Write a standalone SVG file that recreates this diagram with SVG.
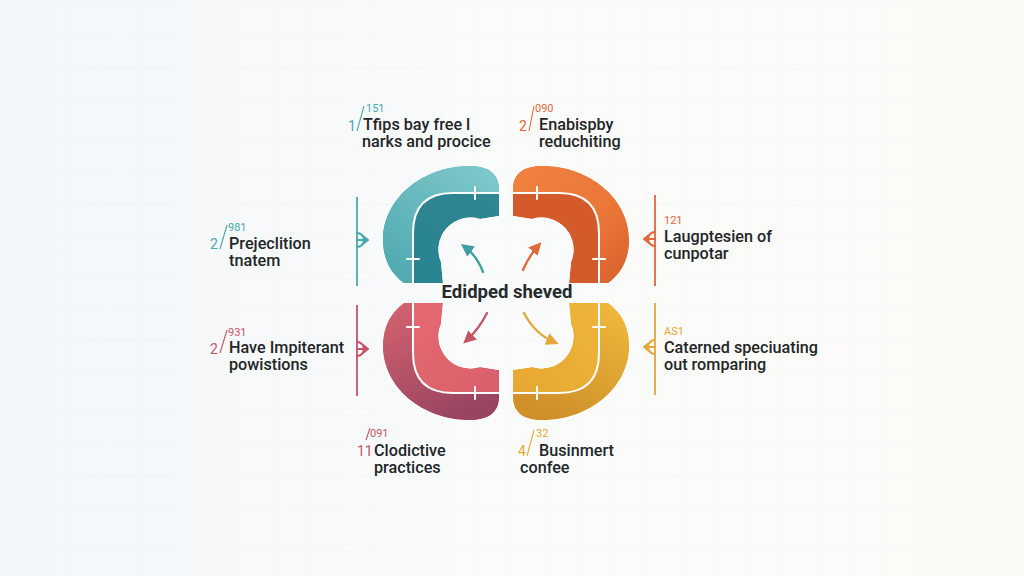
<svg xmlns="http://www.w3.org/2000/svg" xmlns:xlink="http://www.w3.org/1999/xlink" width="1024" height="576" viewBox="0 0 1024 576">
<style>
.lbl{font-family:Roboto,"Liberation Sans",sans-serif;font-size:16.2px;font-weight:500;fill:#232628}
.num{font-family:Roboto,"Liberation Sans",sans-serif;font-size:11px;font-weight:400}
.idx{font-family:Roboto,"Liberation Sans",sans-serif;font-size:14px;font-weight:400}
.ctr{font-family:Roboto,"Liberation Sans",sans-serif;font-size:18.5px;font-weight:700;fill:#262a2c}
.wl{fill:none;stroke:#ffffff;stroke-width:2;stroke-linecap:round;stroke-linejoin:round}
.conn{fill:none;stroke-width:2.3;stroke-linecap:round}
.side{fill:none;stroke-width:1.8}
.glyph{fill:none;stroke-width:2;stroke-linecap:round;stroke-linejoin:round}
.sl{stroke-width:1.1}
</style>
<defs>
<linearGradient id="bg" x1="0" y1="0" x2="1" y2="0">
<stop offset="0" stop-color="#F3F7F9"/>
<stop offset="0.5" stop-color="#FAFBFB"/>
<stop offset="1" stop-color="#FCFAF6"/>
</linearGradient>
<pattern id="grid" width="34" height="34" patternUnits="userSpaceOnUse">
<path d="M34 0 L0 0 L0 34" fill="none" stroke="#EEF2F3" stroke-width="1"/>
</pattern>
<path id="qs" d="M404,283 C390,273 383,258 383,240 C383,199 422,166 470,166 C486,166 499,172 499,189 L499,216 L480,219 A32,32 0 0 0 441,262 L443,283 Z"/>
<clipPath id="qclip"><use xlink:href="#qs"/></clipPath>
<path id="band" d="M300,100 L499,100 L499,193 L453,193 Q413,193 413,233 L413,290 L300,290 Z"/>
<path id="wline" d="M413,283 L413,233 Q413,193 453,193 L499,193 M475,187 L475,199 M407,259 L419,259"/>
<linearGradient id="gTealO" gradientUnits="userSpaceOnUse" x1="490" y1="168" x2="392" y2="280"><stop offset="0" stop-color="#7FC9CB"/><stop offset="1" stop-color="#4FA9B0"/></linearGradient>
<linearGradient id="gTealI" gradientUnits="userSpaceOnUse" x1="499" y1="200" x2="420" y2="283"><stop offset="0" stop-color="#2F8793"/><stop offset="1" stop-color="#2A8390"/></linearGradient>
<linearGradient id="gOrO" gradientUnits="userSpaceOnUse" x1="490" y1="168" x2="392" y2="280"><stop offset="0" stop-color="#F0813F"/><stop offset="0.6" stop-color="#EA7638"/><stop offset="1" stop-color="#D8632E"/></linearGradient>
<linearGradient id="gOrI" gradientUnits="userSpaceOnUse" x1="499" y1="200" x2="420" y2="283"><stop offset="0" stop-color="#D4592A"/><stop offset="1" stop-color="#D35B2B"/></linearGradient>
<linearGradient id="gPkO" gradientUnits="userSpaceOnUse" x1="405" y1="283" x2="455" y2="168"><stop offset="0" stop-color="#D2626F"/><stop offset="1" stop-color="#994460"/></linearGradient>
<linearGradient id="gPkI" gradientUnits="userSpaceOnUse" x1="499" y1="200" x2="420" y2="283"><stop offset="0" stop-color="#D9606B"/><stop offset="1" stop-color="#E4696F"/></linearGradient>
<linearGradient id="gYeO" gradientUnits="userSpaceOnUse" x1="405" y1="283" x2="455" y2="168"><stop offset="0" stop-color="#EFB83B"/><stop offset="1" stop-color="#CF902A"/></linearGradient>
<linearGradient id="gYeI" gradientUnits="userSpaceOnUse" x1="499" y1="200" x2="420" y2="283"><stop offset="0" stop-color="#E6A833"/><stop offset="1" stop-color="#EEB438"/></linearGradient>
<marker id="mTeal" viewBox="0 0 10 10" refX="6" refY="5" markerWidth="5.5" markerHeight="5.5" orient="auto"><path d="M0,0 L10,5 L0,10 Z" fill="#3E9EA6"/></marker>
<marker id="mOrng" viewBox="0 0 10 10" refX="6" refY="5" markerWidth="5.5" markerHeight="5.5" orient="auto"><path d="M0,0 L10,5 L0,10 Z" fill="#E0683A"/></marker>
<marker id="mPink" viewBox="0 0 10 10" refX="6" refY="5" markerWidth="5.5" markerHeight="5.5" orient="auto"><path d="M0,0 L10,5 L0,10 Z" fill="#C65466"/></marker>
<marker id="mYelw" viewBox="0 0 10 10" refX="6" refY="5" markerWidth="5.5" markerHeight="5.5" orient="auto"><path d="M0,0 L10,5 L0,10 Z" fill="#E2A83A"/></marker>
<path id="tap" d="M0,-7 A7,7 0 0 1 0,7 M0,0 L10,0 M6,-4 L11,0 L6,4"/>
</defs>

<rect width="1024" height="576" fill="url(#bg)"/>
<rect width="1024" height="576" fill="url(#grid)" opacity="0.6"/>

<g id="node-teal">
<g clip-path="url(#qclip)"><use xlink:href="#qs" fill="url(#gTealI)"/><use xlink:href="#band" fill="url(#gTealO)"/></g>
<use xlink:href="#wline" class="wl"/>
</g>
<g id="node-orange" transform="translate(1012,0) scale(-1,1)">
<g clip-path="url(#qclip)"><use xlink:href="#qs" fill="url(#gOrI)"/><use xlink:href="#band" fill="url(#gOrO)"/></g>
<use xlink:href="#wline" class="wl"/>
</g>
<g id="node-pink" transform="translate(0,586) scale(1,-1)">
<g clip-path="url(#qclip)"><use xlink:href="#qs" fill="url(#gPkI)"/><use xlink:href="#band" fill="url(#gPkO)"/></g>
<use xlink:href="#wline" class="wl"/>
</g>
<g id="node-yellow" transform="translate(1012,586) scale(-1,-1)">
<g clip-path="url(#qclip)"><use xlink:href="#qs" fill="url(#gYeI)"/><use xlink:href="#band" fill="url(#gYeO)"/></g>
<use xlink:href="#wline" class="wl"/>
</g>

<g id="node-center">
<text class="ctr" x="507" y="298" text-anchor="middle">Edidped sheved</text>
</g>

<g id="connectors">
<path class="conn" stroke="#3E9EA6" d="M483,272 Q477,256 465,247" marker-end="url(#mTeal)"/>
<path class="conn" stroke="#E0683A" d="M523,270 Q529,256 538,246" marker-end="url(#mOrng)"/>
<path class="conn" stroke="#C65466" d="M487,313 Q479,329 467,340" marker-end="url(#mPink)"/>
<path class="conn" stroke="#E2A83A" d="M524,313 Q535,334 554,342" marker-end="url(#mYelw)"/>
<line class="side" stroke="#4AA7AD" x1="357" y1="197" x2="357" y2="286"/>
<line class="side" stroke="#C65466" x1="357" y1="305" x2="357" y2="396"/>
<line class="side" stroke="#E0683A" x1="655" y1="195" x2="655" y2="286"/>
<line class="side" stroke="#E2A83A" x1="655" y1="303" x2="655" y2="395"/>
<use xlink:href="#tap" class="glyph" stroke="#4AA7AD" transform="translate(357,240)"/>
<use xlink:href="#tap" class="glyph" stroke="#C65466" transform="translate(357,349)"/>
<use xlink:href="#tap" class="glyph" stroke="#E0683A" transform="translate(655,239) scale(-1,1)"/>
<use xlink:href="#tap" class="glyph" stroke="#E2A83A" transform="translate(655,347) scale(-1,1)"/>
</g>

<g id="label-tl">
<text class="idx" x="348" y="131" fill="#4AA7AD">1</text>
<line class="sl" stroke="#4AA7AD" x1="357" y1="131" x2="364" y2="106"/>
<text class="num" x="366" y="112" fill="#4AA7AD">151</text>
<text class="lbl" x="363" y="130">Tfips bay free l</text>
<text class="lbl" x="362" y="147">narks and procice</text>
</g>
<g id="label-tr">
<text class="idx" x="519" y="131" fill="#E0683A">2</text>
<line class="sl" stroke="#E0683A" x1="529" y1="131" x2="534" y2="106"/>
<text class="num" x="535" y="112" fill="#E0683A">090</text>
<text class="lbl" x="539" y="130">Enabispby</text>
<text class="lbl" x="539" y="147">reduchiting</text>
</g>
<g id="label-ml">
<text class="idx" x="210" y="249" fill="#4AA7AD">2</text>
<line class="sl" stroke="#4AA7AD" x1="220" y1="249" x2="227" y2="225"/>
<text class="num" x="228" y="231" fill="#4AA7AD">981</text>
<text class="lbl" x="229" y="249">Prejeclition</text>
<text class="lbl" x="229" y="266">tnatem</text>
</g>
<g id="label-bl">
<text class="idx" x="210" y="354" fill="#C65466">2</text>
<line class="sl" stroke="#C65466" x1="220" y1="353" x2="227" y2="330"/>
<text class="num" x="228" y="336" fill="#C65466">931</text>
<text class="lbl" x="229" y="353">Have Impiterant</text>
<text class="lbl" x="229" y="370">powistions</text>
</g>
<g id="label-mr">
<text class="num" x="664" y="224" fill="#E0683A">121</text>
<text class="lbl" x="664" y="242">Laugptesien of</text>
<text class="lbl" x="664" y="259">cunpotar</text>
</g>
<g id="label-br">
<text class="num" x="664" y="335" fill="#E2A83A">AS1</text>
<text class="lbl" x="664" y="353">Caterned speciuating</text>
<text class="lbl" x="664" y="370">out romparing</text>
</g>
<g id="label-bbl">
<line class="sl" stroke="#C65466" x1="366" y1="440" x2="370" y2="428"/>
<text class="num" x="370" y="437" fill="#C65466">091</text>
<text class="idx" x="357" y="456" fill="#C65466" font-size="12">11</text>
<text class="lbl" x="374" y="456">Clodictive</text>
<text class="lbl" x="374" y="473">practices</text>
</g>
<g id="label-bbr">
<text class="idx" x="518" y="456" fill="#E2A83A">4</text>
<line class="sl" stroke="#E2A83A" x1="527" y1="456" x2="534" y2="430"/>
<text class="num" x="536" y="437" fill="#E2A83A">32</text>
<text class="lbl" x="539" y="456">Businmert</text>
<text class="lbl" x="520" y="473">confee</text>
</g>
</svg>
